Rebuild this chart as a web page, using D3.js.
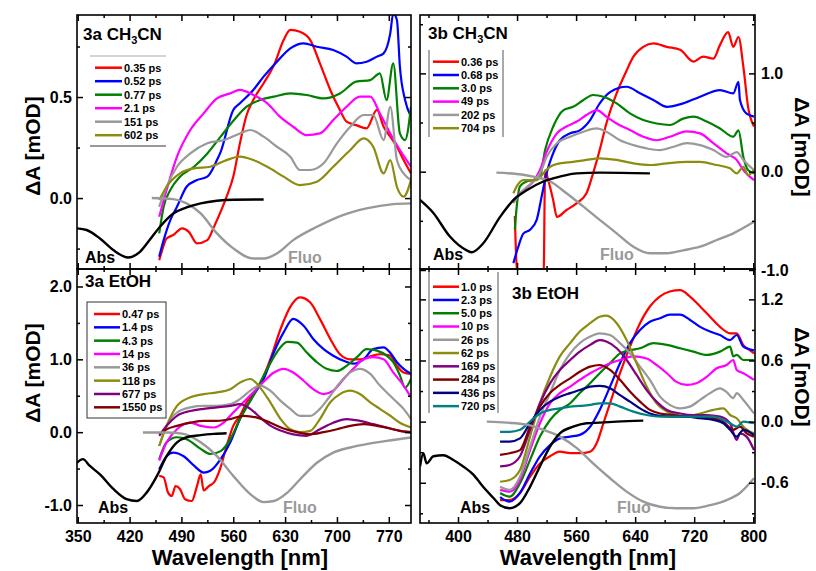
<!DOCTYPE html>
<html>
<head>
<meta charset="utf-8">
<script src="https://cdn.jsdelivr.net/npm/d3@7"></script>
<style>body{margin:0;background:#fff}</style>
</head>
<body>
<svg id="chart" width="816" height="571"></svg>
<script>
// ---- data: [wavelength nm, dA mOD] ----

// 3a CH3CN
const aAbs = [[349,-0.150],[362,-0.158],[380,-0.200],[398,-0.257],[418,-0.294],[434,-0.266],[447,-0.208],[461,-0.142],[479,-0.076],[497,-0.046],[516,-0.026],[538,-0.013],[560,-0.008],[601,-0.007]];
const aFluo = [[450,0],[479,-0.005],[497,-0.026],[516,-0.076],[538,-0.175],[560,-0.249],[587,-0.299],[601,-0.299],[619,-0.274],[641,-0.208],[673,-0.142],[708,-0.084],[740,-0.051],[776,-0.030],[800,-0.026]];
const aLabels = ['0.35 ps', '0.52 ps', '0.77 ps', '2.1 ps', '151 ps', '602 ps'];
const aSeries = [
  [[460,-0.307],[463,-0.27],[470,-0.200],[479,-0.183],[491,-0.150],[500,-0.167],[511,-0.224],[525,-0.208],[534,-0.142],[542,-0.076],[551,0.007],[560,0.106],[569,0.271],[578,0.411],[587,0.485],[601,0.568],[615,0.658],[628,0.782],[637,0.832],[650,0.823],[664,0.782],[677,0.667],[691,0.535],[704,0.436],[713,0.378],[726,0.361],[740,0.345],[754,0.436],[763,0.353],[772,0.304],[781,0.254],[790,0.188],[800,0.122]],
  [[460,-0.290],[466,-0.208],[475,-0.109],[484,-0.043],[497,0.056],[511,0.089],[525,0.106],[538,0.188],[543,0.229],[560,0.436],[569,0.469],[587,0.535],[601,0.601],[619,0.675],[637,0.741],[655,0.766],[673,0.749],[695,0.733],[713,0.700],[726,0.667],[740,0.675],[754,0.700],[763,0.716],[772,0.815],[776,0.914],[781,0.881],[785,0.650],[792,0.485],[800,0.403]],
  [[460,-0.175],[466,-0.043],[475,0.040],[488,0.106],[507,0.155],[525,0.221],[543,0.304],[561,0.386],[578,0.452],[596,0.485],[615,0.502],[637,0.518],[659,0.510],[682,0.493],[704,0.518],[726,0.576],[745,0.584],[758,0.617],[767,0.485],[776,0.667],[785,0.320],[792,0.287],[800,0.452]],
  [[460,-0.092],[470,0.040],[484,0.205],[502,0.337],[520,0.419],[538,0.493],[556,0.518],[569,0.535],[587,0.510],[606,0.469],[623,0.403],[641,0.353],[659,0.312],[677,0.320],[695,0.386],[713,0.452],[731,0.502],[745,0.502],[758,0.419],[772,0.320],[785,0.238],[794,0.188],[800,0.155]],
  [[460,-0.043],[470,0.056],[484,0.155],[502,0.221],[525,0.271],[547,0.287],[569,0.320],[583,0.337],[601,0.304],[619,0.254],[637,0.205],[650,0.139],[664,0.139],[682,0.172],[700,0.271],[718,0.353],[736,0.411],[749,0.411],[763,0.287],[772,0.452],[781,0.188],[790,0.122],[800,0.089]],
  [[460,-0.010],[470,0.056],[488,0.122],[507,0.147],[529,0.155],[551,0.188],[569,0.205],[587,0.188],[606,0.155],[628,0.106],[650,0.064],[673,0.081],[695,0.155],[718,0.238],[736,0.295],[749,0.254],[763,0.122],[772,0.188],[781,0.056],[790,0.007],[800,0.089]]
];

// 3b CH3CN
const bAbs = [[348.5,-0.288],[366.6,-0.42],[389,-0.66],[411.7,-0.80],[418.5,-0.82],[434,-0.73],[457,-0.46],[475,-0.29],[493,-0.19],[515.6,-0.10],[538,-0.05],[561,-0.017],[592,-0.01],[660,-0.017]];
const bFluo = [[452,-0.01],[479.5,-0.024],[502,-0.05],[525,-0.10],[547,-0.22],[570,-0.356],[592,-0.49],[615,-0.627],[637.6,-0.763],[660,-0.83],[683,-0.83],[705,-0.80],[728,-0.763],[750.5,-0.695],[773,-0.627],[801,-0.51]];
const bLabels = ['0.36 ps', '0.68 ps', '3.0 ps', '49 ps', '202 ps', '704 ps'];
const bSeries = [
  [[477,-0.45],[479,-0.9],[481,-1.05],[516,-1.05],[518,0.017],[522,-0.08],[529,-0.29],[534,-0.46],[547,-0.39],[561,-0.32],[574,-0.22],[583,-0.017],[592,0.22],[601,0.49],[615,0.80],[628.5,1.03],[637.6,1.17],[651,1.27],[664.7,1.305],[683,1.27],[701,1.24],[719,1.12],[732,1.17],[746,1.15],[755,1.29],[766,1.42],[773,1.27],[780,1.37],[786.6,1.07],[793,0.66],[801,0.46]],
  [[475,-0.93],[481.8,-0.76],[488.5,-0.63],[497.6,-0.59],[506.6,-0.49],[513.4,-0.25],[520,-0.017],[527,0.15],[538,0.32],[552,0.39],[565,0.42],[579,0.525],[592,0.695],[606,0.81],[628.5,0.864],[646.6,0.797],[664.7,0.73],[683,0.66],[705,0.695],[728,0.763],[755,0.83],[773,0.797],[780,0.915],[782,0.73],[791,0.59],[801,0.56]],
  [[477,-0.59],[479.5,-0.36],[484,-0.15],[493,-0.10],[502,-0.085],[511,-0.05],[518,0.22],[529,0.46],[543,0.627],[556,0.66],[570,0.73],[583,0.78],[597,0.763],[615,0.695],[633,0.593],[651,0.525],[669,0.49],[687,0.475],[705,0.54],[719,0.56],[737,0.51],[755,0.44],[773,0.356],[780,0.42],[786.6,0.15],[793,0.017],[801,-0.017]],
  [[475,-0.29],[488.5,-0.19],[502,-0.10],[511,0.017],[520,0.20],[534,0.39],[547,0.46],[561,0.51],[574,0.576],[588,0.627],[601,0.56],[615,0.49],[633,0.424],[651,0.356],[669,0.32],[687,0.356],[710,0.41],[728,0.39],[746,0.29],[764,0.186],[777.6,0.12],[786.6,0.017],[801,-0.085]],
  [[475,-0.32],[488.5,-0.19],[502,-0.10],[511,-0.017],[520,0.15],[534,0.29],[552,0.356],[570,0.407],[588,0.44],[601,0.407],[619.5,0.32],[637.6,0.27],[655.6,0.237],[673.7,0.22],[692,0.254],[710,0.29],[728,0.27],[746,0.22],[764,0.15],[777.6,0.2],[786.6,0.12],[801,0.017]],
  [[475,-0.22],[479.5,-0.15],[488.5,-0.085],[497.6,-0.085],[506.6,-0.085],[515.6,-0.017],[524.7,0.05],[538,0.085],[556,0.10],[574,0.12],[592,0.136],[615,0.12],[637.6,0.085],[660,0.068],[683,0.085],[710,0.10],[728,0.10],[750.5,0.068],[768.6,0.034],[777.6,-0.017],[786.6,0.05],[793,-0.034],[801,0.017]]
];

// 3a EtOH
const cAbs = [[349,-0.42],[357,-0.37],[366,-0.46],[380,-0.58],[398,-0.78],[416,-0.92],[430,-0.945],[443,-0.83],[457,-0.60],[470,-0.33],[484,-0.14],[497,-0.07],[516,-0.04],[534,-0.023],[551,-0.014]];
const cFluo = [[438,-0.005],[470,-0.005],[493,-0.023],[516,-0.14],[538,-0.33],[560,-0.60],[583,-0.85],[601,-0.96],[615,-0.945],[633,-0.83],[650,-0.65],[673,-0.42],[695,-0.28],[718,-0.21],[740,-0.165],[767,-0.12],[800,-0.073]];
const cLabels = ['0.47 ps', '1.4 ps', '4.3 ps', '14 ps', '36 ps', '118 ps', '677 ps', '1550 ps'];
const cSeries = [
  [[460,-0.60],[466,-0.62],[472,-0.83],[477,-0.876],[482,-0.74],[488,-0.78],[495,-0.92],[504,-0.945],[511,-0.74],[516,-0.58],[520,-0.80],[527,-0.74],[534,-0.69],[542,-0.51],[551,-0.19],[560,0.087],[569,0.225],[578,0.41],[596,0.66],[610,1.0],[624,1.42],[637,1.72],[650,1.85],[664,1.78],[677,1.555],[691,1.28],[704,1.07],[718,1.0],[731,1.0],[745,1.04],[758,1.07],[772,1.05],[781,0.91],[790,0.82],[800,0.80]],
  [[460,-0.51],[470,-0.33],[479,-0.28],[493,-0.33],[507,-0.46],[520,-0.555],[529,-0.53],[543,-0.37],[556,-0.14],[569,0.18],[587,0.50],[601,0.73],[615,1.1],[628,1.37],[641,1.555],[655,1.46],[668,1.28],[682,1.14],[695,1.05],[709,0.98],[722,0.94],[736,1.0],[749,1.14],[763,1.165],[772,1.09],[781,0.96],[790,0.87],[800,0.80]],
  [[460,-0.37],[470,-0.14],[484,-0.07],[497,-0.096],[516,-0.23],[529,-0.30],[543,-0.26],[556,-0.096],[569,0.18],[587,0.50],[606,0.87],[619,1.1],[633,1.24],[646,1.23],[659,1.096],[673,0.96],[686,0.87],[700,0.84],[713,0.91],[727,1.03],[740,1.14],[754,1.12],[767,1.05],[776,0.96],[785,0.78],[792,0.61],[800,0.73]],
  [[460,-0.39],[470,-0.14],[484,0.04],[502,0.13],[516,0.087],[534,0.064],[547,0.13],[560,0.27],[578,0.454],[596,0.64],[615,0.82],[628,0.87],[641,0.82],[655,0.706],[668,0.59],[682,0.523],[695,0.57],[709,0.73],[722,0.87],[736,1.0],[749,1.03],[763,1.0],[776,0.82],[790,0.64],[800,0.48]],
  [[460,-0.19],[470,0.087],[484,0.27],[502,0.34],[520,0.36],[538,0.36],[556,0.385],[569,0.454],[583,0.57],[596,0.64],[610,0.57],[624,0.43],[637,0.32],[650,0.225],[664,0.225],[677,0.32],[691,0.50],[704,0.68],[718,0.82],[731,0.87],[745,0.80],[758,0.64],[772,0.50],[781,0.41],[790,0.32],[800,0.18]],
  [[460,-0.19],[470,0.087],[484,0.36],[502,0.48],[520,0.523],[538,0.546],[556,0.59],[569,0.68],[583,0.73],[596,0.615],[610,0.41],[624,0.18],[637,0.04],[650,0],[664,0.018],[677,0.18],[691,0.41],[704,0.523],[718,0.57],[731,0.523],[745,0.41],[758,0.32],[772,0.225],[785,0.13],[800,0.064]],
  [[460,-0.05],[470,0.087],[484,0.225],[502,0.29],[520,0.32],[538,0.34],[556,0.36],[569,0.385],[583,0.32],[596,0.206],[610,0.09],[624,0.023],[641,-0.03],[659,-0.05],[677,0.04],[695,0.13],[713,0.18],[731,0.156],[749,0.11],[767,0.064],[785,0.018],[800,0]],
  [[460,-0.03],[470,0.04],[484,0.087],[502,0.13],[520,0.156],[538,0.156],[556,0.18],[574,0.225],[592,0.2],[610,0.13],[628,0.05],[646,0],[664,-0.03],[682,0],[700,0.04],[718,0.087],[736,0.11],[754,0.087],[772,0.05],[785,0.018],[800,0]]
];

// 3b EtOH
const dAbs = [[348.5,-0.44],[353,-0.31],[357.5,-0.41],[366.6,-0.34],[380,-0.33],[393.7,-0.376],[407,-0.44],[420.8,-0.52],[434,-0.64],[448,-0.75],[457,-0.82],[470,-0.85],[484,-0.80],[497.6,-0.64],[511,-0.44],[524.7,-0.245],[538,-0.115],[556,-0.05],[574,-0.016],[592,-0.01],[615,0],[651,0.01]];
const dFluo = [[439,0],[466,-0.01],[493,-0.03],[515.6,-0.08],[538,-0.147],[561,-0.26],[583,-0.41],[606,-0.556],[628.5,-0.687],[651,-0.785],[673.7,-0.835],[696,-0.85],[719,-0.85],[741.5,-0.82],[764,-0.77],[782,-0.70],[801,-0.556]];
const dLabels = ['1.0 ps', '2.3 ps', '5.0 ps', '10 ps', '26 ps', '62 ps', '169 ps', '284 ps', '436 ps', '720 ps'];
const dSeries = [
  [[457,-0.77],[470,-0.77],[484,-0.70],[497.6,-0.54],[511,-0.41],[524.7,-0.34],[538,-0.295],[552,-0.31],[565,-0.31],[579,-0.295],[588,-0.21],[597,-0.016],[606,0.18],[619.5,0.475],[633,0.736],[646.6,0.966],[660,1.13],[673.7,1.23],[687,1.277],[701,1.29],[714,1.23],[728,1.13],[741.5,1.03],[755,0.93],[768.6,0.867],[777.6,0.867],[786.6,0.75],[795.7,0.70],[801,0.67]],
  [[457,-0.74],[470,-0.785],[484,-0.70],[497.6,-0.51],[511,-0.34],[524.7,-0.23],[538,-0.164],[552,-0.147],[565,-0.13],[579,-0.05],[592,0.115],[606,0.344],[619.5,0.573],[633,0.77],[646.6,0.90],[660,0.98],[673.7,1.015],[687,1.05],[701,1.05],[714,1.0],[728,0.93],[741.5,0.884],[755,0.85],[768.6,0.80],[777.6,0.85],[786.6,0.736],[801,0.70]],
  [[457,-0.70],[470,-0.736],[484,-0.605],[497.6,-0.376],[511,-0.147],[524.7,0.016],[538,0.115],[552,0.18],[565,0.28],[579,0.376],[592,0.475],[606,0.573],[619.5,0.67],[633,0.70],[646.6,0.72],[664.7,0.77],[683,0.753],[701,0.72],[719,0.687],[737,0.655],[755,0.687],[768.6,0.736],[773,0.64],[777.6,0.655],[786.6,0.605],[801,0.605]],
  [[457,-0.67],[470,-0.687],[484,-0.57],[497.6,-0.28],[511,-0.016],[524.7,0.18],[538,0.28],[552,0.344],[565,0.41],[579,0.475],[592,0.524],[606,0.573],[619.5,0.605],[637.6,0.64],[655.6,0.62],[669,0.556],[683,0.475],[696,0.39],[710,0.36],[723,0.376],[737,0.44],[750.5,0.524],[764,0.556],[773,0.605],[777.6,0.507],[786.6,0.475],[801,0.41]],
  [[457,-0.64],[470,-0.67],[484,-0.54],[497.6,-0.245],[511,0.05],[524.7,0.28],[538,0.507],[552,0.67],[565,0.77],[579,0.835],[592,0.867],[606,0.85],[619.5,0.77],[633,0.67],[646.6,0.54],[660,0.41],[673.7,0.245],[687,0.164],[701,0.13],[714,0.147],[728,0.213],[741.5,0.28],[755,0.327],[764,0.29],[773,0.23],[777.6,0.28],[786.6,0.213],[801,0.08]],
  [[457,-0.59],[470,-0.573],[484,-0.475],[497.6,-0.147],[511,0.18],[524.7,0.44],[538,0.64],[552,0.77],[565,0.884],[579,0.966],[592,1.03],[601,1.04],[615,0.966],[628.5,0.80],[642,0.573],[655.6,0.344],[669,0.18],[683,0.098],[696,0.065],[710,0.05],[728,0.08],[746,0.115],[759.5,0.13],[768.6,0.065],[777.6,0.033],[786.6,-0.05],[801,-0.115]],
  [[457,-0.44],[470,-0.425],[484,-0.34],[497.6,-0.08],[511,0.18],[524.7,0.376],[538,0.507],[552,0.605],[565,0.687],[579,0.753],[592,0.80],[601,0.786],[615,0.72],[628.5,0.605],[642,0.458],[655.6,0.31],[669,0.196],[683,0.115],[701,0.08],[719,0.065],[737,0.065],[755,0.05],[768.6,-0.016],[777.6,-0.18],[782,-0.115],[791,-0.147],[801,-0.28]],
  [[457,-0.327],[470,-0.31],[484,-0.28],[497.6,-0.05],[511,0.147],[524.7,0.28],[538,0.36],[552,0.425],[565,0.49],[579,0.54],[592,0.556],[606,0.507],[619.5,0.41],[633,0.295],[646.6,0.196],[660,0.115],[673.7,0.08],[692,0.065],[710,0.05],[728,0.05],[746,0.033],[759.5,0],[773,-0.08],[782,-0.05],[791,-0.115],[801,-0.147]],
  [[457,-0.196],[470,-0.196],[484,-0.164],[497.6,-0.016],[511,0.115],[524.7,0.196],[538,0.245],[552,0.28],[565,0.31],[579,0.344],[592,0.35],[606,0.327],[619.5,0.26],[633,0.196],[646.6,0.13],[660,0.08],[673.7,0.056],[692,0.05],[710,0.05],[728,0.033],[746,0.016],[759.5,-0.016],[768.6,-0.08],[777.6,-0.147],[786.6,-0.08],[801,-0.13]],
  [[457,-0.10],[470,-0.10],[484,-0.08],[497.6,0],[511,0.08],[524.7,0.115],[538,0.13],[552,0.147],[565,0.154],[579,0.164],[592,0.18],[606,0.18],[619.5,0.147],[637.6,0.098],[655.6,0.065],[673.7,0.05],[692,0.05],[710,0.05],[728,0.05],[746,0.05],[759.5,0.016],[768.6,-0.016],[777.6,-0.05],[786.6,0],[801,-0.016]]
];

// ticks
const xMajorLeft = [350, 420, 490, 560, 630, 700, 770];
const xMinorLeft = [385, 455, 525, 595, 665, 735];
const xMajorRight = [400, 480, 560, 640, 720, 800];
const xMinorRight = [360, 440, 520, 600, 680, 760];
const yMajorA = [0, 0.5];
const yMinorA = [-0.25, 0.25, 0.75];
const yMajorB = [-1, 0, 1];
const yMinorB = [-0.5, 0.5, 1.5];
const yMajorC = [-1, 0, 1, 2];
const yMinorC = [-0.5, 0.5, 1.5];
const yMajorD = [-0.6, 0, 0.6, 1.2];
const yMinorD = [-0.9, -0.3, 0.3, 0.9];

const colors6 = ['#ff0000', '#0000ff', '#008000', '#ff00ff', '#999999', '#8c8c10'];
const colors8 = ['#ff0000', '#0000ff', '#008000', '#ff00ff', '#999999', '#8c8c10', '#800080', '#800000'];
const colors10 = ['#ff0000', '#0000ff', '#008000', '#ff00ff', '#999999', '#8c8c10', '#800080', '#800000', '#000080', '#008080'];

const FONT = '"Liberation Sans", Arial, Helvetica, sans-serif';
const FLUO = '#999999';

const svg = d3.select('#chart');

const panels = [
  {
    id: 'a', left: 77, right: 411, top: 15, bottom: 269,
    xDomain: [349, 800], yDomain: [-0.351, 0.906],
    xMajor: xMajorLeft, xMinor: xMinorLeft, yMajor: yMajorA, yMinor: yMinorA,
    ySide: 'left', xLabels: false,
    series: aSeries, colors: colors6, labels: aLabels, abs: aAbs, fluo: aFluo,
    title: ['3a CH', '3', 'CN'], titleX: 83, titleY: 40,
    absAt: [85, 263], fluoAt: [288, 263],
    legend: { lineX0: 95, lineX1: 122, textX: 124, rowY: 67.7, rowStep: 13.5, style: 'hlines', box: [90, 56, 166, 146] }
  },
  {
    id: 'b', left: 420, right: 755, top: 15, bottom: 269,
    xDomain: [348.5, 802.4], yDomain: [-0.99, 1.594],
    xMajor: xMajorRight, xMinor: xMinorRight, yMajor: yMajorB, yMinor: yMinorB,
    ySide: 'right', xLabels: false,
    series: bSeries, colors: colors6, labels: bLabels, abs: bAbs, fluo: bFluo,
    title: ['3b CH', '3', 'CN'], titleX: 428, titleY: 39,
    absAt: [433, 260], fluoAt: [600, 260],
    legend: { lineX0: 433, lineX1: 459, textX: 461, rowY: 61.7, rowStep: 13.3, style: 'vlines', box: [429, 50, 503, 137] }
  },
  {
    id: 'c', left: 77, right: 411, top: 269, bottom: 523,
    xDomain: [349, 800], yDomain: [-1.247, 2.24],
    xMajor: xMajorLeft, xMinor: xMinorLeft, yMajor: yMajorC, yMinor: yMinorC,
    ySide: 'left', xLabels: true,
    series: cSeries, colors: colors8, labels: cLabels, abs: cAbs, fluo: cFluo,
    title: ['3a EtOH'], titleX: 85, titleY: 287,
    absAt: [98, 513], fluoAt: [283, 513],
    legend: { lineX0: 94, lineX1: 120, textX: 122, rowY: 314, rowStep: 13.33, style: 'box', box: [87, 302, 166, 418] }
  },
  {
    id: 'd', left: 420, right: 755, top: 269, bottom: 523,
    xDomain: [348.5, 802.4], yDomain: [-0.995, 1.498],
    xMajor: xMajorRight, xMinor: xMinorRight, yMajor: yMajorD, yMinor: yMinorD,
    ySide: 'right', xLabels: true,
    series: dSeries, colors: colors10, labels: dLabels, abs: dAbs, fluo: dFluo,
    title: ['3b EtOH'], titleX: 512, titleY: 299,
    absAt: [460, 513], fluoAt: [617, 513],
    legend: { lineX0: 433, lineX1: 459, textX: 461, rowY: 286.7, rowStep: 13.27, style: 'vlines', box: [429, 272, 498, 413] }
  }
];

panels.forEach(drawPanel);

// axis titles
[[40, 146], [40, 373]].forEach(([x, y]) => {
  svg.append('text')
    .attr('transform', `translate(${x},${y}) rotate(-90)`)
    .attr('text-anchor', 'middle')
    .attr('font-family', FONT).attr('font-size', 21).attr('font-weight', 'bold')
    .text('\u0394A [mOD]');
});
[[795, 147], [795, 377]].forEach(([x, y]) => {
  svg.append('text')
    .attr('transform', `translate(${x},${y}) rotate(90)`)
    .attr('text-anchor', 'middle')
    .attr('font-family', FONT).attr('font-size', 21).attr('font-weight', 'bold')
    .text('\u0394A [mOD]');
});
[240, 588].forEach((x) => {
  svg.append('text')
    .attr('x', x).attr('y', 565)
    .attr('text-anchor', 'middle')
    .attr('font-family', FONT).attr('font-size', 22).attr('font-weight', 'bold')
    .text('Wavelength [nm]');
});

function drawPanel(p) {
  const x = d3.scaleLinear().domain(p.xDomain).range([p.left, p.right]);
  const y = d3.scaleLinear().domain(p.yDomain).range([p.bottom, p.top]);
  const line = d3.line()
    .x((d) => x(d[0]))
    .y((d) => y(d[1]))
    .curve(d3.curveMonotoneX);

  svg.append('clipPath').attr('id', 'clip-' + p.id)
    .append('rect')
    .attr('x', p.left).attr('y', p.top)
    .attr('width', p.right - p.left).attr('height', p.bottom - p.top);

  const plot = svg.append('g').attr('clip-path', `url(#clip-${p.id})`);

  p.series.forEach((s, i) => {
    plot.append('path')
      .attr('d', line(s))
      .attr('fill', 'none')
      .attr('stroke', p.colors[i])
      .attr('stroke-width', 2.2)
      .attr('stroke-linejoin', 'round');
  });

  plot.append('path')
    .attr('d', line(p.fluo))
    .attr('fill', 'none').attr('stroke', FLUO).attr('stroke-width', 2.4);
  plot.append('path')
    .attr('d', line(p.abs))
    .attr('fill', 'none').attr('stroke', '#000').attr('stroke-width', 2.4);

  // axes (all ticks point inward)
  const fmt = (d) => d.toFixed(1);
  addAxis(d3.axisBottom(x), p.xMajor, 6, p.bottom, 'x', p.xLabels ? (d) => String(d) : null, 8);
  addAxis(d3.axisBottom(x), p.xMinor, 3, p.bottom, 'x', null, 8);
  addAxis(d3.axisTop(x), p.xMajor, 6, p.top, 'x', null, 3);
  addAxis(d3.axisTop(x), p.xMinor, 3, p.top, 'x', null, 3);

  const labelSide = p.ySide === 'left' ? d3.axisLeft : d3.axisRight;
  const otherSide = p.ySide === 'left' ? d3.axisRight : d3.axisLeft;
  const labelPos = p.ySide === 'left' ? p.left : p.right;
  const otherPos = p.ySide === 'left' ? p.right : p.left;
  addAxis(labelSide(y), p.yMajor, 6, labelPos, 'y', fmt, p.ySide === 'left' ? 5 : 6);
  addAxis(labelSide(y), p.yMinor, 3, labelPos, 'y', null, 3);
  addAxis(otherSide(y), p.yMajor, 6, otherPos, 'y', null, 3);
  addAxis(otherSide(y), p.yMinor, 3, otherPos, 'y', null, 3);

  svg.append('rect')
    .attr('x', p.left).attr('y', p.top)
    .attr('width', p.right - p.left).attr('height', p.bottom - p.top)
    .attr('fill', 'none').attr('stroke', '#000').attr('stroke-width', 1.6);

  // title
  const t = svg.append('text')
    .attr('x', p.titleX).attr('y', p.titleY)
    .attr('font-family', FONT).attr('font-size', 17).attr('font-weight', 'bold');
  t.append('tspan').text(p.title[0]);
  if (p.title.length > 1) {
    t.append('tspan').attr('font-size', 11).attr('dy', 4).text(p.title[1]);
    t.append('tspan').attr('dy', -4).text(p.title[2]);
  }

  svg.append('text')
    .attr('x', p.absAt[0]).attr('y', p.absAt[1])
    .attr('font-family', FONT).attr('font-size', 16).attr('font-weight', 'bold')
    .attr('fill', '#000').text('Abs');
  svg.append('text')
    .attr('x', p.fluoAt[0]).attr('y', p.fluoAt[1])
    .attr('font-family', FONT).attr('font-size', 16).attr('font-weight', 'bold')
    .attr('fill', FLUO).text('Fluo');

  drawLegend(p);
}

function addAxis(axis, values, size, pos, dir, format, pad) {
  axis.tickValues(values)
    .tickSize(-size)
    .tickSizeOuter(0)
    .tickPadding(pad)
    .tickFormat(format || (() => ''));
  const g = svg.append('g')
    .attr('transform', dir === 'x' ? `translate(0,${pos})` : `translate(${pos},0)`)
    .call(axis);
  g.select('.domain').remove();
  g.selectAll('line').attr('stroke', '#000').attr('stroke-width', 1.5);
  g.selectAll('text')
    .attr('font-family', FONT)
    .attr('font-size', 16)
    .attr('font-weight', 'bold')
    .attr('fill', '#000');
}

function drawLegend(p) {
  const L = p.legend;
  const g = svg.append('g');
  const [bx0, by0, bx1, by1] = L.box;
  if (L.style === 'hlines') {
    g.append('line').attr('x1', bx0).attr('x2', bx1).attr('y1', by0).attr('y2', by0)
      .attr('stroke', '#aaaaaa').attr('stroke-width', 1);
    g.append('line').attr('x1', bx0).attr('x2', bx1).attr('y1', by1).attr('y2', by1)
      .attr('stroke', '#333333').attr('stroke-width', 1);
  } else if (L.style === 'vlines') {
    [bx0, bx1].forEach((bx) => {
      g.append('line').attr('x1', bx).attr('x2', bx).attr('y1', by0).attr('y2', by1)
        .attr('stroke', '#555555').attr('stroke-width', 1);
    });
  } else {
    g.append('rect').attr('x', bx0).attr('y', by0)
      .attr('width', bx1 - bx0).attr('height', by1 - by0)
      .attr('fill', 'none').attr('stroke', '#333333').attr('stroke-width', 1);
  }
  p.labels.forEach((label, i) => {
    const yy = L.rowY + i * L.rowStep;
    g.append('line')
      .attr('x1', L.lineX0).attr('x2', L.lineX1).attr('y1', yy).attr('y2', yy)
      .attr('stroke', p.colors[i]).attr('stroke-width', 2.5);
    g.append('text')
      .attr('x', L.textX).attr('y', yy).attr('dy', '0.35em')
      .attr('font-family', FONT).attr('font-size', 11).attr('font-weight', 'bold')
      .text(label);
  });
}
</script>
</body>
</html>
